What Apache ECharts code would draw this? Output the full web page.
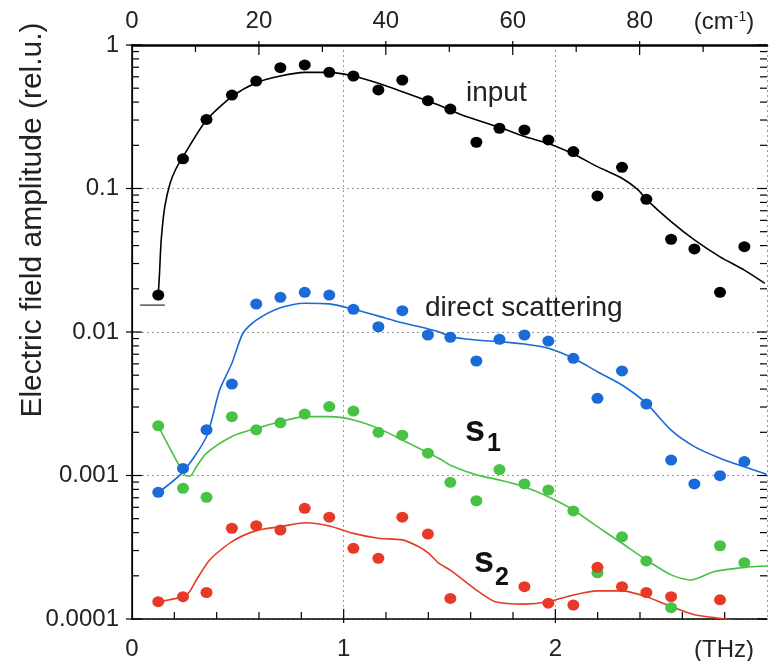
<!DOCTYPE html>
<html>
<head>
<meta charset="utf-8">
<script src="https://cdn.jsdelivr.net/npm/echarts@6/dist/echarts.min.js"></script>
<style>
html, body { margin: 0; padding: 0; background: #fff; }
#chart { width: 772px; height: 661px; }
</style>
</head>
<body>
<div id="chart"></div>
<script>
// frequency of the measured points (THz)
var freqTHz = [0.124, 0.241, 0.352, 0.472, 0.587, 0.701, 0.816, 0.932, 1.046, 1.164, 1.277, 1.398, 1.504,
    1.627, 1.736, 1.854, 1.967, 2.085, 2.199, 2.315, 2.430, 2.547, 2.657, 2.778, 2.893]

// measured amplitudes (rel.u.)
var inputPts = [0.0181, 0.161, 0.303, 0.448, 0.561, 0.695, 0.726, 0.645, 0.608, 0.486, 0.570, 0.409, 0.358,
    0.210, 0.263, 0.256, 0.218, 0.181, 0.0887, 0.1406, 0.0841, 0.0443, 0.0379, 0.0189, 0.0393]
var directPts = [0.000764, 0.00112, 0.00208, 0.00434, 0.01567, 0.01745, 0.0189, 0.0181, 0.01439, 0.01088, 0.01407, 0.00953, 0.00918,
    0.00628, 0.00889, 0.00953, 0.00865, 0.00656, 0.00345, 0.00535, 0.00315, 0.00128, 0.000873, 0.000997, 0.00125]
var s1Pts = [0.00222, 0.000814, 0.000705, 0.00257, 0.00208, 0.00233, 0.00268, 0.00302, 0.00281, 0.00200, 0.00191, 0.00143, 0.000897,
    0.000667, 0.0011, 0.000873, 0.000792, 0.000566, 0.00021, 0.000374, 0.000254, 0.00012, null, 0.000324, 0.000247]
var s2Pts = [0.000132, 0.000143, 0.000153, 0.000429, 0.000447, 0.000417, 0.000591, 0.000512, 0.000311, 0.000265, 0.000512, 0.000391, 0.000139,
    null, null, 0.000168, 0.000129, 0.000125, 0.000229, 0.000168, 0.000153, 0.000143, null, 0.000136, null]

// fitted curves [THz, amplitude]
var inputFit = [[0.124, 0.0181], [0.130, 0.0257], [0.138, 0.0438], [0.155, 0.0747], [0.180, 0.1087], [0.205, 0.1346],
    [0.241, 0.1667], [0.352, 0.30], [0.472, 0.436], [0.587, 0.546], [0.701, 0.608], [0.816, 0.645], [0.932, 0.645],
    [1.046, 0.608], [1.164, 0.541], [1.277, 0.473], [1.449, 0.382], [1.559, 0.325], [1.736, 0.267], [1.854, 0.230],
    [1.967, 0.206], [2.085, 0.174], [2.199, 0.142], [2.315, 0.118], [2.391, 0.0977], [2.43, 0.084], [2.547, 0.0587],
    [2.657, 0.0438], [2.778, 0.0334], [2.893, 0.027], [2.99, 0.0218]]
var directFit = [[0.124, 0.00076], [0.241, 0.00106], [0.352, 0.00187], [0.414, 0.00394], [0.472, 0.00605], [0.524, 0.0098],
    [0.587, 0.0121], [0.701, 0.01477], [0.816, 0.01585], [0.932, 0.0157], [1.046, 0.0144], [1.164, 0.0129], [1.277, 0.0116],
    [1.449, 0.01005], [1.504, 0.00927], [1.627, 0.0088], [1.736, 0.00857], [1.854, 0.00824], [1.967, 0.0077], [2.085, 0.00656],
    [2.199, 0.00529], [2.315, 0.00427], [2.43, 0.00318], [2.547, 0.00207], [2.657, 0.00159], [2.778, 0.00132], [2.893, 0.00115],
    [2.998, 0.00102]]
var s1Fit = [[0.124, 0.00222], [0.249, 0.00101], [0.273, 0.00099], [0.304, 0.00115], [0.352, 0.00143], [0.472, 0.00187],
    [0.587, 0.00213], [0.701, 0.00237], [0.816, 0.00257], [0.932, 0.00257], [1.046, 0.00244], [1.164, 0.00213], [1.277, 0.00177],
    [1.449, 0.00132], [1.504, 0.00118], [1.627, 0.00101], [1.736, 0.00093], [1.854, 0.000836], [1.967, 0.000711], [2.085, 0.000575],
    [2.199, 0.00044], [2.315, 0.000337], [2.43, 0.000258], [2.547, 0.000203], [2.641, 0.000187], [2.751, 0.000214], [2.893, 0.000229],
    [3.0, 0.000234]]
var s2Fit = [[0.124, 0.000132], [0.257, 0.000147], [0.304, 0.000187], [0.367, 0.000258], [0.472, 0.000346], [0.587, 0.000413],
    [0.701, 0.00044], [0.816, 0.000469], [0.932, 0.000445], [1.046, 0.000395], [1.164, 0.000365], [1.277, 0.000356], [1.355, 0.000319],
    [1.402, 0.000287], [1.449, 0.000245], [1.504, 0.000219], [1.627, 0.000159], [1.716, 0.000132], [1.854, 0.000127], [1.967, 0.000132],
    [2.085, 0.000147], [2.199, 0.000157], [2.315, 0.000157], [2.43, 0.000143], [2.547, 0.000122], [2.657, 0.000107], [2.778, 0.000101],
    [2.87, 0.0000955]]
// short reference mark under the first input point
var refMark = [[0.038, 0.0154], [0.155, 0.0154]]

// tick values
var decades = [0.0001, 0.001, 0.01, 0.1, 1]
var minorFactors = [2, 3, 4, 5, 6, 7, 8, 9]
var thzTicks = [0.2, 0.4, 0.6, 0.8, 1, 1.2, 1.4, 1.6, 1.8, 2, 2.2, 2.4, 2.6, 2.8]
var cmTicks = [10, 20, 30, 40, 50, 60, 70, 80, 90]
var THZ_PER_CM = 0.029979

var FONT = "'Liberation Sans', Arial, sans-serif"
var colors = { input: '#000000', direct: '#1a6ad8', s1: '#48c244', s2: '#e63a26' }

function pts(vals) {
    var out = []
    vals.forEach(function(v, i) {
        if (v != null) out.push([freqTHz[i], v])
    })
    return out
}

function scatter(name, vals, color) {
    return {
        name: name, type: 'scatter', data: pts(vals), symbol: 'circle', symbolSize: [12, 11],
        itemStyle: { color: color, opacity: 1 }, z: 4, silent: true
    }
}
function fit(name, data, color) {
    return {
        name: name, type: 'line', data: data, smooth: 0.25, showSymbol: false, symbol: 'none',
        lineStyle: { color: color, width: 1.6 }, z: 3, silent: true
    }
}

function textEl(x, y, text, font, extra) {
    var style = { text: text, font: font + ' ' + FONT, fill: '#222', align: 'left', verticalAlign: 'middle' }
    for (var k in extra) style[k] = extra[k]
    return { type: 'text', x: x, y: y, style: style }
}

function buildLabels() {
    var title = textEl(33, 220, 'Electric field amplitude (rel.u.)', '30px', { align: 'center' })
    title.rotation = Math.PI / 2
    return [
        title,
        textEl(466, 93, 'input', '28px'),
        textEl(425, 308, 'direct scattering', '28px'),
        textEl(465, 431, 's', 'bold 36px', { fill: '#111' }),
        textEl(487, 444, '1', 'bold 25px', { fill: '#111' }),
        textEl(474, 562, 's', 'bold 36px', { fill: '#111' }),
        textEl(495, 578, '2', 'bold 25px', { fill: '#111' }),
        textEl(724, 650, '(THz)', '24px', { align: 'center' }),
        textEl(724, 22, '(cm{sup|-1})', '24px', {
            align: 'center',
            rich: { sup: { fontSize: 14, verticalAlign: 'top', padding: [0, 0, 10, 0], fill: '#222' } }
        })
    ]
}

var chart = echarts.init(document.getElementById('chart'))
var option = {
    animation: false,
    backgroundColor: '#fff',
    textStyle: { fontFamily: FONT },
    grid: { left: 132, right: 5, top: 45, bottom: 41 },
    xAxis: [
        {
            type: 'value', min: 0, max: 3, interval: 1, position: 'bottom',
            axisLine: { lineStyle: { color: '#000', width: 1.5 } },
            axisTick: { show: false },
            axisLabel: {
                fontSize: 24, color: '#222', margin: 18, fontFamily: FONT,
                formatter: function(v) { return v < 3 ? String(v) : '' }
            },
            splitLine: { show: true, lineStyle: { color: '#999', type: [2, 3], width: 1 } }
        },
        {
            type: 'value', min: 0, max: 100.07, interval: 20, position: 'top',
            axisLine: { lineStyle: { color: '#000', width: 2.5 } },
            axisTick: { show: false },
            axisLabel: {
                fontSize: 24, color: '#222', margin: 12, fontFamily: FONT,
                formatter: function(v) { return v <= 80 ? String(v) : '' }
            },
            splitLine: { show: false }
        }
    ],
    yAxis: [
        {
            type: 'log', logBase: 10, min: 0.0001, max: 1, position: 'left',
            axisLine: { lineStyle: { color: '#000', width: 1.5 } },
            axisTick: { show: false },
            axisLabel: {
                fontSize: 24, color: '#222', margin: 13, fontFamily: FONT,
                formatter: function(v) { return String(+v.toPrecision(1)) }
            },
            splitLine: { show: true, lineStyle: { color: '#999', type: [2, 3], width: 1 } }
        },
        {
            type: 'log', logBase: 10, min: 0.0001, max: 1, position: 'right',
            axisLine: { show: true, lineStyle: { color: '#000', width: 1.2 } },
            axisTick: { show: false },
            axisLabel: { show: false },
            splitLine: { show: false }
        }
    ],
    series: [
        fit('input fit', inputFit, colors.input),
        fit('direct fit', directFit, colors.direct),
        fit('s1 fit', s1Fit, colors.s1),
        fit('s2 fit', s2Fit, colors.s2),
        {
            type: 'line', data: refMark, showSymbol: false, symbol: 'none',
            lineStyle: { color: '#000', width: 1 }, silent: true
        },
        scatter('input', inputPts, colors.input),
        scatter('direct scattering', directPts, colors.direct),
        scatter('s1', s1Pts, colors.s1),
        scatter('s2', s2Pts, colors.s2)
    ]
}
chart.setOption(option)

// tick marks and annotations, placed through the grid's own scales
function drawOverlay() {
    var els = buildLabels()
    function seg(x1, y1, x2, y2) {
        els.push({ type: 'line', shape: { x1: x1, y1: y1, x2: x2, y2: y2 }, style: { stroke: '#000', lineWidth: 1.2 } })
    }
    var f = { gridIndex: 0 }
    var yBottom = chart.convertToPixel(f, [0, 0.0001])[1]
    var yTop = chart.convertToPixel(f, [0, 1])[1]
    var xLeft = chart.convertToPixel(f, [0, 1])[0]
    var xRight = chart.convertToPixel(f, [3, 1])[0]
    decades.forEach(function(d) {
        var y = chart.convertToPixel(f, [0, d])[1]
        seg(xLeft - 6, y, xLeft + 10, y)
        seg(xRight - 10, y, xRight, y)
        if (d < 1) minorFactors.forEach(function(m) {
            var ym = chart.convertToPixel(f, [0, d * m])[1]
            seg(xLeft, ym, xLeft + 7, ym)
            seg(xRight - 7, ym, xRight, ym)
        })
    })
    thzTicks.forEach(function(t) {
        var x = chart.convertToPixel(f, [t, 1])[0]
        var major = Math.abs(t - Math.round(t)) < 1e-6
        seg(x, yBottom + (major ? 4 : 0), x, yBottom - (major ? 10 : 7))
    })
    cmTicks.forEach(function(c) {
        var x = chart.convertToPixel(f, [c * THZ_PER_CM, 1])[0]
        var major = c % 20 === 0
        seg(x, yTop - (major ? 4 : 0), x, yTop + (major ? 10 : 7))
    })
    chart.setOption({ graphic: els })
}
drawOverlay()

window.onresize = function() {
    chart.resize()
    drawOverlay()
}
</script>
</body>
</html>
